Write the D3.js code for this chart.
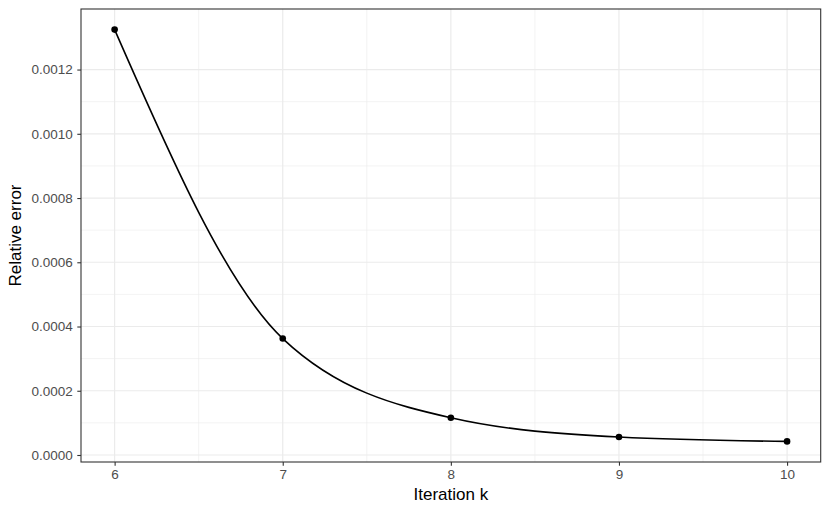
<!DOCTYPE html>
<html><head><meta charset="utf-8">
<script src="https://cdn.jsdelivr.net/npm/d3@7"></script>
<style>body{margin:0;background:#fff}svg{display:block}text{font-family:"Liberation Sans",Arial,sans-serif}</style>
</head><body><svg id="c" width="830" height="513"></svg>
<script>
const iterations = [6, 7, 8, 9, 10];
const relErrors = [0.0013244, 0.0003625, 0.000116, 0.000056, 0.0000423];
const xTicks = [6, 7, 8, 9, 10];
const yTicks = [0, 0.0002, 0.0004, 0.0006, 0.0008, 0.0010, 0.0012];

const svg = d3.select("#c");
const L = 81, R = 820.7, T = 9, B = 462;
const xr = [d3.min(iterations), d3.max(iterations)], xe = (xr[1]-xr[0])*0.05;
const yr = [d3.min(relErrors), d3.max(relErrors)], ye = (yr[1]-yr[0])*0.05;
const x = d3.scaleLinear().domain([xr[0]-xe, xr[1]+xe]).range([L, R]);
const y = d3.scaleLinear().domain([yr[0]-ye, yr[1]+ye]).range([B, T]);

svg.append("rect").attr("x",L).attr("y",T).attr("width",R-L).attr("height",B-T).attr("fill","#fff");
const g = svg.append("g");
const xMinor = xTicks.slice(0,-1).map((d,i)=>(d+xTicks[i+1])/2);
const yMinor = yTicks.slice(0,-1).map((d,i)=>(d+yTicks[i+1])/2);
g.selectAll(".xm").data(xMinor).join("line").attr("x1",d=>x(d)).attr("x2",d=>x(d)).attr("y1",T).attr("y2",B).attr("stroke","#EBEBEB").attr("stroke-width",0.6);
g.selectAll(".ym").data(yMinor).join("line").attr("y1",d=>y(d)).attr("y2",d=>y(d)).attr("x1",L).attr("x2",R).attr("stroke","#EBEBEB").attr("stroke-width",0.6);
g.selectAll(".xM").data(xTicks).join("line").attr("x1",d=>x(d)).attr("x2",d=>x(d)).attr("y1",T).attr("y2",B).attr("stroke","#EBEBEB").attr("stroke-width",1.2);
g.selectAll(".yM").data(yTicks).join("line").attr("y1",d=>y(d)).attr("y2",d=>y(d)).attr("x1",L).attr("x2",R).attr("stroke","#EBEBEB").attr("stroke-width",1.2);

const pts = iterations.map((d,i)=>[d, relErrors[i]]);
svg.append("path").datum(pts).attr("fill","none").attr("stroke","#000").attr("stroke-width",1.6)
  .attr("d", d3.line().x(d=>x(d[0])).y(d=>y(d[1])).curve(d3.curveMonotoneX));
svg.selectAll(".pt").data(pts).join("circle").attr("cx",d=>x(d[0])).attr("cy",d=>y(d[1])).attr("r",3.3).attr("fill","#000");

svg.append("rect").attr("x",L).attr("y",T).attr("width",R-L).attr("height",B-T).attr("fill","none").attr("stroke","#333").attr("stroke-width",1.1);

const xa = svg.append("g").attr("transform",`translate(0,${B})`)
  .call(d3.axisBottom(x).tickValues(xTicks).tickSize(3.7).tickPadding(4).tickFormat(d3.format("d")));
const ya = svg.append("g").attr("transform",`translate(${L},0)`)
  .call(d3.axisLeft(y).tickValues(yTicks).tickSize(3.7).tickPadding(4.5).tickFormat(d3.format(".4f")));
[xa, ya].forEach(a=>{
  a.select(".domain").remove();
  a.selectAll(".tick line").attr("stroke","#333").attr("stroke-width",1.1);
  a.selectAll(".tick text").attr("fill","#4D4D4D").style("font-size","13.5px");
});

svg.append("text").attr("x",(L+R)/2).attr("y",500).attr("text-anchor","middle").style("font-size","17px").attr("fill","#000").text("Iteration k");
svg.append("text").attr("transform",`translate(21,${(T+B)/2}) rotate(-90)`).attr("text-anchor","middle").style("font-size","17px").attr("fill","#000").text("Relative error");
</script></body></html>
